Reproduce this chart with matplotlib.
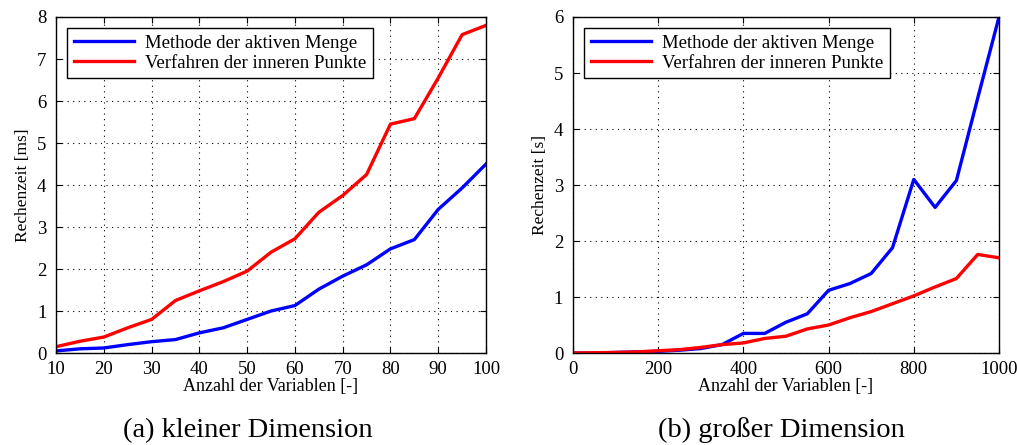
import numpy as np
import matplotlib.pyplot as plt
import matplotlib

matplotlib.rc('font', family='serif', serif=['Liberation Serif', 'DejaVu Serif'], size=12)

# kleine Dimension: Rechenzeit in ms
n_small = [10, 15, 20, 25, 30, 35, 40, 45, 50, 55, 60, 65, 70, 75, 80, 85, 90, 95, 100]
active_small = [0.05, 0.10, 0.12, 0.20, 0.27, 0.32, 0.48, 0.60, 0.80, 1.00, 1.13,
                1.52, 1.83, 2.10, 2.48, 2.70, 3.42, 3.93, 4.50]
interior_small = [0.15, 0.28, 0.38, 0.60, 0.80, 1.25, 1.48, 1.70, 1.95, 2.40, 2.72,
                  3.35, 3.75, 4.25, 5.45, 5.58, 6.55, 7.58, 7.80]

# große Dimension: Rechenzeit in s
n_large = [0, 50, 100, 150, 200, 250, 300, 350, 400, 450, 500, 550, 600, 650, 700,
           750, 800, 850, 900, 950, 1000]
active_large = [0.0, 0.0, 0.01, 0.02, 0.03, 0.05, 0.08, 0.15, 0.35, 0.35, 0.55, 0.70,
                1.12, 1.24, 1.42, 1.88, 3.10, 2.60, 3.08, 4.55, 6.00]
interior_large = [0.0, 0.005, 0.01, 0.02, 0.04, 0.06, 0.10, 0.15, 0.18, 0.26, 0.30,
                  0.43, 0.50, 0.63, 0.74, 0.88, 1.02, 1.18, 1.33, 1.76, 1.70]

LABELS = ['Methode der aktiven Menge', 'Verfahren der inneren Punkte']
CAPTIONS = ['(a) kleiner Dimension', '(b) großer Dimension']


def style_axes(ax, xticks, yticks, ylabel):
    ax.set_xticks(xticks)
    ax.set_yticks(yticks)
    ax.set_xlim(xticks[0], xticks[-1])
    ax.set_ylim(yticks[0], yticks[-1])
    ax.tick_params(direction='in', top=True, right=True, length=4, labelsize=13.5)
    ax.tick_params(axis='x', pad=6)
    ax.tick_params(axis='y', pad=7)
    ax.grid(True, ls=(0, (1, 4)), color='black', lw=0.8)
    for s in ax.spines.values():
        s.set_linewidth(1.0)
    ax.set_xlabel('Anzahl der Variablen [-]', fontsize=13, labelpad=0)
    ax.set_ylabel(ylabel, fontsize=12.5, labelpad=4)
    leg = ax.legend(loc='upper left', fancybox=False, edgecolor='black', framealpha=1,
                    fontsize=13.5, handlelength=3.2, handletextpad=0.6,
                    borderaxespad=0.6, labelspacing=0.15, borderpad=0.35)
    leg.get_frame().set_linewidth(1.0)


fig = plt.figure(figsize=(10.17, 4.45), dpi=100)
ax1 = fig.add_axes([0.0551, 0.2067, 0.4228, 0.7551])
ax2 = fig.add_axes([0.5634, 0.2067, 0.4189, 0.7551])

ax1.plot(n_small, active_small, color='#0000ff', lw=2.4, label=LABELS[0])
ax1.plot(n_small, interior_small, color='#ff0000', lw=2.4, label=LABELS[1])
style_axes(ax1, np.arange(10, 101, 10), np.arange(0, 9, 1), 'Rechenzeit [ms]')

ax2.plot(n_large, active_large, color='#0000ff', lw=2.4, label=LABELS[0])
ax2.plot(n_large, interior_large, color='#ff0000', lw=2.4, label=LABELS[1])
style_axes(ax2, np.arange(0, 1001, 200), np.arange(0, 7, 1), 'Rechenzeit [s]')

fig.text(0.2435, 0.005, CAPTIONS[0], ha='center', va='bottom', fontsize=20.5)
fig.text(0.768, 0.005, CAPTIONS[1], ha='center', va='bottom', fontsize=20.5)

fig.savefig('out.png', dpi=100)
